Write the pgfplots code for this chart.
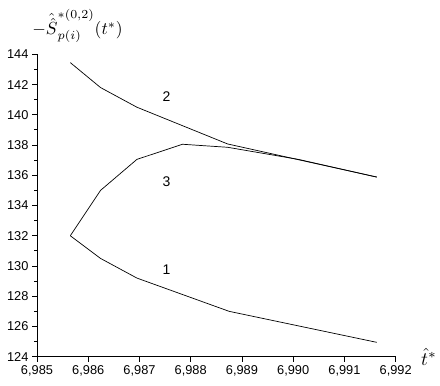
\documentclass[border=0pt]{standalone}
\usepackage{fontspec}
\setmainfont{Liberation Sans}
\usepackage{graphicx}
\usepackage{pgfplots}
\pgfplotsset{compat=1.18}
\begin{document}
\begin{tikzpicture}[x=1pt,y=1pt]
\useasboundingbox (0,0) rectangle (440,386);
\begin{axis}[
  at={(37pt,29.3pt)}, anchor=south west,
  scale only axis, width=358.7pt, height=302.4pt,
  xmin=6.985, xmax=6.992, ymin=124, ymax=144,
  axis lines*=left,
  axis line style={line width=0.9pt, -},
  xtick={6.985,6.986,...,6.992},
  ytick={124,126,...,144},
  minor y tick num=1,
  tick align=outside,
  major tick length=5pt, minor tick length=3pt,
  tick style={line width=0.8pt, black},
  /pgf/number format/assume math mode=true,
  xticklabel style={/pgf/number format/.cd, fixed, fixed zerofill, precision=3, use comma, 1000 sep={}},
  yticklabel style={/pgf/number format/.cd, fixed, precision=0},
  scaled x ticks=false,
  ticklabel style={font=\fontsize{12.8}{15}\selectfont},
  clip=false,
]
\addplot[black, line width=0.7pt] coordinates {
 (6.98565,132) (6.98624,130.5) (6.98695,129.2) (6.98875,127.0) (6.99163,124.95)
};
\addplot[black, line width=0.7pt] coordinates {
 (6.98565,143.45) (6.98624,141.8) (6.98695,140.5) (6.98872,138.07) (6.99163,135.88)
};
\addplot[black, line width=0.7pt] coordinates {
 (6.98565,132) (6.98624,135.0) (6.98695,137.05) (6.98784,138.05) (6.98872,137.85) (6.9901,137.05) (6.99163,135.88)
};
\node[font=\fontsize{14}{16}\selectfont] at (axis cs:6.98753,129.74) {1};
\node[font=\fontsize{14}{16}\selectfont] at (axis cs:6.98753,141.2) {2};
\node[font=\fontsize{14}{16}\selectfont] at (axis cs:6.98753,135.57) {3};
\node[anchor=center, inner sep=0pt] at (axis cs:6.98579,145.9) {\scalebox{1.75}{$-\hat{\hat{S}}^{*(0,2)}_{p(i)}(t^{*})$}};
\node[anchor=center, inner sep=0pt] at (axis cs:6.99265,124.0) {\scalebox{1.9}{$\hat{t}^{*}$}};
\end{axis}
\end{tikzpicture}
\end{document}
